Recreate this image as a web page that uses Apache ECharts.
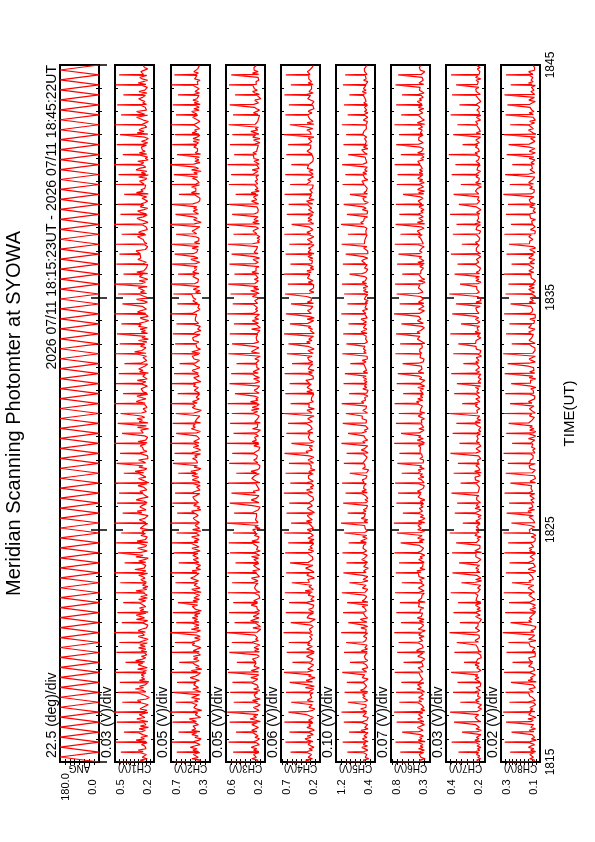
<!DOCTYPE html>
<html><head><meta charset="utf-8">
<script src="https://cdn.jsdelivr.net/npm/echarts@6/dist/echarts.min.js"></script>
<style>html,body{margin:0;padding:0;background:#fff}#c{width:595px;height:842px}</style>
</head><body><div id="c"></div>
<script>
// ---- labels / axes ----
const timeLabels = ['1815', '1825', '1835', '1845'];
const panelNames = ['ANG', 'CH1(V)', 'CH2(V)', 'CH3(V)', 'CH4(V)', 'CH5(V)', 'CH6(V)', 'CH7(V)', 'CH8(V)'];
const panelMax = [180, 0.5, 0.7, 0.6, 0.7, 1.2, 0.8, 0.4, 0.3];
const panelMin = [0, 0.2, 0.3, 0.2, 0.2, 0.4, 0.3, 0.2, 0.1];
const panelDiv = [22.5, 0.03, 0.05, 0.05, 0.06, 0.10, 0.07, 0.03, 0.02];
const maxLabels = ['180.0', '0.5', '0.7', '0.6', '0.7', '1.2', '0.8', '0.4', '0.3'];
const minLabels = ['0.0', '0.2', '0.3', '0.2', '0.2', '0.4', '0.3', '0.2', '0.1'];
const divLabels = ['22.5 (deg)/div', '0.03 (V)/div', '0.05 (V)/div', '0.05 (V)/div', '0.06 (V)/div',
                   '0.10 (V)/div', '0.07 (V)/div', '0.03 (V)/div', '0.02 (V)/div'];
const titleText = 'Meridian Scanning Photomter at SYOWA';
const periodText = '2026 07/11 18:15:23UT - 2026 07/11 18:45:22UT';
const timeAxisName = 'TIME(UT)';

// ---- data ----
// scan angle (deg) at each turning point, evenly spaced over the 30 minutes
const angTurns = [0,180,0,180,0,180,0,180,0,180,0,180,0,180,0,180,0,180,0,180,
0,180,0,180,0,180,0,180,0,180,0,180,0,180,0,180,0,180,0,180,
0,180,0,180,0,180,0,180,0,180,0,180,0,180,0,180,0,180,0,180,
0,180,0,180,0,180,0,180,0,180,0,180,0,180,0,180,0,180,0,180,
0,180,0,180,0,180,0,180,0,180,0,180,0,180,0,180,0,180,0,180,
0,180,0,180,0,180,0,180,0,180,0,180,0,180,0,180,0,180,0,180,
0,180,0,180,0,180,0,180,0,180,0,180,0,180,0,180,0,180,0,180,0];
// relative sample times inside one scan (fraction of a scan)
const scanSampleFrac = [0, 0.05, 0.19, 0.33, 0.47, 0.61, 0.75, 0.95];
// channel samples in mV: chN = 5 per scan (peak first), chNx = 3 more per scan
const ch1 = [472,268,305,251,290,455,283,321,262,247,498,259,338,274,301,431,292,266,315,243,486,247,299,332,270,
512,276,254,308,289,444,301,327,259,236,478,263,287,344,281,463,239,312,271,296,501,285,258,326,252,
419,272,341,288,264,489,254,297,263,318,467,309,276,245,284,523,266,322,297,258,448,281,249,335,273,
482,245,306,279,312,437,298,263,318,251,495,271,339,256,287,459,257,284,301,269,508,289,262,347,276,
426,264,318,273,244,476,302,251,289,326,491,248,331,267,282,452,277,293,242,305,517,261,256,314,271,
441,294,328,261,249,484,253,276,337,298,469,286,309,255,263,503,241,267,293,319,433,279,345,272,255,
488,265,288,318,247,461,307,254,281,296,529,252,323,264,275,446,283,271,302,241,479,246,314,289,331,
457,297,259,247,284,514,268,336,308,262,438,255,284,271,299,493,289,262,328,253,471,243,311,285,318,
427,302,277,256,269,499,261,349,293,281,464,287,255,319,244,485,249,298,266,307,451,316,272,241,285,
521,264,327,301,258,443,278,251,287,334,476,257,305,273,262,507,293,266,315,248,435,248,332,279,291,
490,282,259,257,324,466,305,291,338,266,498,253,273,262,283,449,271,318,295,251,515,286,246,273,309,
458,259,301,326,277,481,298,268,249,256,429,244,335,283,301,494,276,261,311,272,473,263,297,254,338,
510,301,279,325,245,440,256,313,268,289,487,284,248,296,263,462,247,329,277,315,505,291,265,243,282,
453,272,304,334,258,483,258,287,269,297,436,296,253,316,271,496,262,322,284,249,468,281,276,301,307];
const ch1x = [284,259,312,271,296,253,248,287,319,305,262,279,266,313,247,291,244,301,258,281,327,312,267,249,276,298,261,
243,321,285,297,256,272,268,309,251,321,274,295,255,247,283,283,336,262,264,271,307,302,252,278,247,289,261,
286,318,249,261,263,296,339,284,271,273,256,317,252,301,265,294,277,248,267,246,322,309,292,259,245,268,286,
281,323,253,263,257,311,316,284,276,257,249,297,288,306,264,249,272,281,327,259,255,272,297,308,254,263,274,
298,331,247,276,251,293,243,286,267,311,272,249,284,258,325,262,304,271,293,267,256,251,319,298,307,245,263,
269,288,281,246,274,312,321,253,259,278,312,287,259,266,248,302,291,306,253,248,274,287,327,261,266,262,293,
331,283,252,248,305,279,292,257,316,271,276,264,255,318,243,313,264,289,267,249,307,286,297,258,244,271,283,
299,256,272,275,334,249,258,268,301,318,287,266,263,251,292,291,309,256,249,273,284];
const ch2 = [668,452,398,487,421,641,417,476,433,502,695,468,412,391,455,623,403,489,447,428,684,439,421,512,396,
712,476,385,441,467,652,421,458,403,489,677,395,437,476,418,638,461,409,429,503,703,428,492,384,447,
615,447,413,468,425,689,409,471,435,392,661,483,426,401,458,724,437,398,492,414,646,412,461,427,481,
682,458,389,448,436,629,426,475,409,465,697,391,443,487,402,655,469,418,432,497,708,435,484,396,443,
621,415,427,471,419,674,472,401,438,486,691,424,462,411,431,643,448,395,479,407,716,407,436,423,472,
637,461,488,394,429,686,418,414,457,461,659,479,447,402,416,701,402,423,481,448,626,446,496,419,395,
679,427,408,444,478,664,488,431,397,425,719,413,467,452,408,647,436,399,416,491,683,397,454,473,433,
652,466,417,389,452,706,431,479,438,411,631,408,426,461,477,693,473,393,427,419,669,419,458,482,441,
612,452,431,408,463,698,401,487,436,398,658,438,415,469,482,681,463,442,394,427,644,416,397,451,456,
714,481,463,424,403,635,427,412,476,444,676,393,449,402,471,702,455,425,441,418,627,412,478,463,437,
688,448,406,399,496,663,471,437,452,423,699,404,459,416,409,648,437,421,484,452,717,462,392,431,468,
654,418,447,473,429,685,477,428,407,401,619,406,491,445,462,692,445,411,426,438,671,429,465,391,489,
709,468,403,455,414,639,397,452,428,447,687,441,418,472,406,662,414,483,437,458,704,459,429,404,427,
649,432,446,488,411,682,401,462,419,475,628,467,407,453,436,696,423,438,431,402,666,449,419,466,453];
const ch2x = [436,471,405,459,402,448,421,486,437,474,419,463,408,451,427,447,433,492,485,406,418,426,468,445,452,423,397,
411,447,476,469,398,431,433,482,456,401,437,419,458,414,483,424,459,402,481,427,447,439,406,468,407,463,429,
462,441,411,429,397,458,446,476,423,413,431,491,488,409,438,422,453,416,457,421,449,403,467,432,476,442,405,
438,401,472,416,486,427,463,429,441,431,458,398,472,416,463,409,437,429,451,474,452,427,404,418,483,451,479,
442,423,406,419,469,448,467,411,433,404,438,471,455,482,414,434,419,445,478,446,402,412,399,467,449,463,436,
425,427,409,471,452,487,437,408,424,406,475,451,461,432,417,423,461,463,484,418,431,414,447,448,456,403,412,
432,472,476,468,436,429,402,414,455,445,489,407,479,426,442,418,451,468,453,409,421,428,466,437,474,433,404,
407,421,459,441,478,426,466,412,452,435,446,413,411,401,471,458,457,433,426,424,408];
const ch3 = [552,298,271,336,289,527,263,318,284,341,574,312,279,256,303,498,281,337,301,267,563,247,294,352,286,
588,306,262,281,319,521,274,328,249,297,557,289,253,317,268,534,321,296,274,345,579,266,341,291,258,
489,293,277,329,283,566,258,306,263,312,541,331,268,297,276,592,279,289,244,324,512,263,347,308,261,
569,305,255,279,298,526,276,316,335,253,581,251,284,269,307,538,318,272,291,339,585,287,327,252,281,
503,269,293,314,266,559,312,249,287,302,572,257,335,276,268,529,294,282,326,251,593,271,261,298,317,
517,325,309,267,284,561,262,277,341,293,544,299,321,258,272,578,254,288,305,336,495,286,343,281,259,
567,273,259,316,287,536,311,296,264,274,589,265,331,289,308,523,292,268,247,329,558,248,305,302,276,
541,319,276,339,261,583,277,349,272,294,508,261,287,311,283,564,303,254,276,316,547,269,322,293,257,
492,296,281,261,304,576,255,339,318,289,539,314,263,284,271,562,281,301,252,337,519,267,274,329,265,
587,322,317,275,298,531,276,258,306,281,554,259,293,347,263,577,303,286,268,309,514,264,334,291,274,
565,297,269,257,323,543,271,312,302,288,581,328,257,278,255,524,283,298,324,297,591,256,326,266,313,
537,309,274,289,269,568,265,285,338,284,501,292,341,259,302,571,274,263,301,276,548,318,307,271,331,
584,259,279,313,262,516,287,324,286,293,559,306,252,262,318,535,263,297,345,273,573,299,283,275,287,
528,272,318,298,256,562,315,267,261,305,507,258,302,327,279,569,289,276,292,264,546,266,329,271,311];
const ch3x = [283,317,262,306,258,294,271,289,325,254,334,279,318,272,261,276,249,303,297,311,274,263,283,338,289,265,256,
312,327,291,259,281,267,294,253,319,278,304,284,246,271,297,321,289,258,285,342,276,266,263,309,301,296,271,
257,275,289,283,318,263,339,257,297,272,286,324,261,309,279,304,269,252,287,295,286,251,327,313,296,262,267,
274,281,294,318,306,258,264,252,281,289,278,317,253,314,263,307,267,299,279,291,275,262,259,306,331,283,259,
268,308,288,295,256,271,257,297,326,284,275,283,312,249,261,263,319,304,291,284,276,248,268,293,305,302,257,
276,257,318,259,329,284,317,273,266,271,288,299,293,262,273,256,311,329,302,276,261,281,253,287,266,298,312,
324,271,258,254,284,293,297,318,271,273,264,306,288,293,264,261,257,285,313,301,319,279,279,268,252,326,297,
299,268,274,267,287,256,286,309,301,243,256,283,308,292,324,275,271,261,292,313,289];
const ch4 = [612,321,384,296,352,578,364,298,341,277,643,289,357,392,318,591,337,272,305,369,657,302,346,331,284,
604,375,293,267,341,569,284,362,348,305,636,341,316,279,387,588,296,378,324,263,662,359,287,356,329,
553,318,341,289,297,627,273,305,371,352,601,348,369,302,278,668,307,284,337,321,575,329,352,261,366,
639,281,314,345,293,596,363,275,318,338,651,297,391,284,307,562,335,328,357,272,634,276,302,323,384,
584,352,366,291,315,647,314,281,349,296,607,288,337,276,355,659,346,309,364,283,571,305,374,298,327,
629,271,292,335,361,593,338,355,281,302,664,295,318,372,291,581,367,287,309,346,642,309,343,263,318,
598,283,306,354,374,655,351,379,297,286,566,318,274,328,331,631,291,358,345,299,609,372,297,287,358,
669,303,331,366,272,577,345,284,312,337,645,279,369,299,309,589,334,311,381,285,653,298,346,276,351,
559,361,293,338,314,624,287,327,354,276,604,325,371,303,343,661,274,289,326,298,586,356,338,282,365,
637,311,301,359,321,572,284,362,311,288,649,341,279,337,354,613,297,349,291,307,666,369,314,368,279,
579,305,286,297,339,641,276,353,342,317,595,348,299,279,362,658,318,367,327,291,563,282,312,354,305,
626,359,281,301,348,602,293,344,372,276,654,326,298,285,331,583,368,375,316,357,646,287,306,343,289,
568,334,339,291,312,632,299,284,366,342,608,357,358,304,281,663,312,296,331,369,587,278,367,289,303,
644,344,303,352,326,599,306,329,278,287,656,371,287,341,352,574,289,352,309,298,638,327,315,362,336];
const ch4x = [337,308,371,296,352,319,364,287,336,318,344,291,281,371,357,352,299,314,309,326,288,273,347,359,346,312,303,
321,283,341,372,336,276,299,361,327,333,294,349,287,318,311,357,341,284,314,279,368,276,353,322,341,307,297,
305,368,339,362,291,306,297,326,357,329,344,281,356,286,318,283,315,344,318,363,293,347,298,326,292,332,361,
325,281,309,369,349,287,303,312,342,278,337,314,336,294,281,351,358,329,289,322,367,323,276,301,344,341,338,
307,308,279,366,365,312,285,289,346,331,327,294,358,301,323,296,354,352,319,283,286,349,319,317,274,346,341,
338,292,298,312,372,364,283,307,282,361,337,329,326,286,357,293,355,303,347,311,276,315,279,344,281,342,319,
354,326,291,306,293,361,339,364,308,298,318,286,327,284,327,363,349,346,286,306,299,321,331,317,349,277,282,
293,358,339,334,314,356,277,297,294,357,339,321,308,283,309,344,362,342,316,301,287];
const ch5 = [1012,583,641,527,602,968,624,548,589,671,1063,541,612,658,565,934,598,687,543,611,1041,652,569,604,538,
1087,566,633,692,587,957,613,552,571,649,1024,547,698,628,594,979,638,584,541,662,1072,572,621,667,549,
913,609,548,597,624,1035,556,679,553,608,993,641,593,634,571,1094,589,557,582,689,948,563,642,701,551,
1056,627,578,559,613,972,544,661,614,587,1081,606,592,548,657,926,671,545,643,592,1048,582,636,588,538,
987,551,608,672,619,1068,634,571,557,646,941,576,694,621,563,1029,612,559,594,602,1097,549,627,548,681,
961,657,583,639,576,1053,593,546,607,547,1004,558,672,579,634,1076,621,601,662,589,919,572,563,531,655,
1039,646,637,598,572,982,541,589,684,613,1089,603,652,552,595,953,668,574,617,542,1061,582,611,576,663,
997,553,548,649,588,1083,629,676,593,617,931,567,597,542,649,1045,615,562,628,571,1018,548,641,574,604,
906,639,583,661,558,1071,577,629,587,637,988,604,556,549,592,1052,561,688,624,568,944,648,572,589,686,
1092,586,614,656,551,967,552,597,541,618,1034,624,543,637,582,1078,573,662,598,609,923,659,587,566,547,
1059,594,618,673,628,1001,546,571,551,579,1085,617,649,612,641,958,581,556,588,567,1096,638,693,634,596,
976,562,583,549,658,1043,606,537,619,583,915,553,627,582,619,1066,626,591,667,548,1009,571,648,561,613,
1074,643,569,603,586,949,558,612,645,672,1047,598,557,578,553,993,651,681,629,601,1081,574,594,556,638,
962,619,546,618,569,1037,557,633,583,612,927,641,578,661,584,1058,586,619,547,635,1012,563,567,612,592];
const ch5x = [614,567,649,553,638,589,627,596,542,581,552,668,649,621,577,562,583,603,606,657,556,574,549,631,643,612,584,
557,576,647,618,639,563,589,561,594,636,603,551,551,628,622,597,574,639,663,546,578,572,617,608,616,582,549,
548,651,626,632,593,571,579,558,659,609,634,584,654,569,553,563,611,632,621,647,596,586,553,574,546,596,661,
638,622,579,571,564,548,601,639,617,562,587,642,644,551,569,593,626,603,556,592,558,629,661,624,583,573,586,
612,546,639,568,618,571,647,583,552,597,633,628,553,561,597,624,604,563,578,579,651,639,646,582,561,557,608,
604,623,574,586,591,546,642,548,637,569,612,593,617,586,559,551,637,622,633,568,589,596,599,561,566,627,634,
619,552,583,583,641,606,648,574,549,559,589,617,606,621,641,588,559,572,627,603,598,547,636,556,613,571,629,
576,593,581,652,549,612,564,615,553,601,582,638,637,629,587,581,563,601,619,604,569];
const ch6 = [712,398,436,361,417,681,427,372,448,389,743,362,451,403,432,657,441,389,372,461,728,379,423,456,394,
761,452,367,418,377,694,408,441,381,446,736,371,398,467,412,668,436,459,392,368,752,392,381,427,453,
639,419,428,369,401,721,367,472,441,387,703,447,395,398,438,758,403,362,451,416,673,381,438,376,463,
732,429,407,423,379,686,362,451,463,407,749,441,376,387,449,662,397,422,432,372,739,418,468,364,428,
697,374,384,445,397,756,453,412,401,382,676,389,437,373,458,724,421,371,458,414,764,368,449,394,366,
648,437,396,421,437,731,393,427,366,421,709,412,461,438,389,747,376,388,409,452,663,449,417,451,374,
718,387,369,382,431,692,426,443,427,409,759,371,401,462,386,671,438,456,376,443,737,403,382,413,371,
701,364,428,448,418,754,443,472,391,457,644,391,374,426,383,727,418,409,367,436,713,377,451,441,402,
651,446,387,398,376,744,402,433,453,429,683,367,398,384,461,735,427,466,419,394,667,386,376,461,417,
762,434,419,372,447,689,379,447,429,385,729,451,391,396,423,748,397,364,447,368,656,418,438,417,441,
722,372,457,378,403,704,437,401,434,437,751,386,378,403,389,679,423,429,464,452,741,368,462,388,414,
693,447,389,419,376,738,406,416,452,428,646,381,446,371,459,726,432,374,436,392,716,389,438,394,433,
753,428,403,457,384,674,372,459,408,419,733,443,387,379,446,698,396,424,432,399,757,367,463,446,372,
669,436,392,389,441,734,402,418,463,407,659,449,376,401,436,742,381,441,426,387,708,412,397,368,423];
const ch6x = [402,437,381,426,391,448,384,423,407,451,372,429,413,446,393,379,408,456,436,387,419,398,459,378,421,416,441,
388,381,403,457,433,386,407,399,452,376,444,414,431,382,427,412,421,395,447,457,436,386,403,373,419,376,411,
441,439,448,394,412,389,428,368,422,373,436,458,438,401,394,403,453,406,426,384,438,389,419,381,452,442,417,
411,373,449,378,427,396,433,406,428,397,389,408,421,448,376,446,417,439,383,381,413,414,451,401,437,397,454,
392,424,383,456,369,426,406,438,447,381,411,391,428,452,419,399,386,405,443,429,437,372,403,378,417,443,462,
431,378,413,387,419,394,449,456,428,408,392,441,384,431,386,437,407,417,403,374,452,421,447,399,376,416,409,
442,388,431,412,439,381,389,421,446,433,383,418,457,452,394,398,407,426,417,378,407,384,429,441,426,442,388,
449,396,423,402,413,449,379,449,397,436,387,414,413,426,436,391,401,402,428,437,419];
const ch7 = [352,231,243,222,238,336,247,226,239,221,371,224,252,231,244,318,238,219,246,229,359,221,236,228,251,
379,242,229,218,236,327,229,248,241,223,364,251,224,234,246,341,226,239,252,231,374,236,221,227,242,
308,245,244,238,219,357,219,233,223,237,345,233,251,244,228,382,241,227,233,249,329,228,238,219,234,
362,247,222,241,225,338,222,246,236,243,376,237,231,224,238,321,249,218,248,221,367,225,243,232,247,
333,239,229,221,232,369,218,252,239,226,348,244,236,229,241,381,231,224,246,233,314,227,247,234,223,
355,248,232,221,251,343,223,219,243,237,372,236,241,231,228,325,242,228,249,244,361,219,253,226,231,
339,234,237,238,222,377,246,223,224,246,331,228,244,247,235,366,241,221,233,228,347,224,249,222,241,
384,238,231,242,226,317,252,226,229,247,358,229,242,239,233,344,221,235,225,221,373,244,228,248,238,
311,233,247,231,229,363,226,223,221,245,337,248,239,246,232,378,222,251,234,224,323,239,226,227,249,
368,231,234,243,236,349,217,246,221,227,383,243,229,238,242,328,235,221,247,231,356,228,245,229,223,
341,246,232,224,244,375,223,227,245,237,319,237,249,232,228,365,229,238,222,246,346,251,224,241,233,
379,226,243,236,221,334,241,231,227,239,361,232,222,249,248,324,219,248,233,226,371,245,236,223,241,
352,227,227,246,234,386,238,251,229,225,315,248,229,238,247,363,222,244,224,232,342,236,233,248,223,
376,229,221,231,242,331,244,247,221,229,369,224,228,245,238,348,239,242,234,246,374,231,225,226,231];
const ch7x = [227,244,233,241,228,249,235,221,226,222,247,241,246,233,223,229,218,247,238,242,232,224,229,221,249,237,244,
231,251,228,226,223,238,243,246,247,219,231,226,237,239,234,248,225,242,228,249,221,233,236,251,245,222,229,
223,243,237,239,228,224,247,241,246,232,226,231,221,252,239,244,234,225,236,219,248,227,245,233,242,231,222,
229,238,245,251,224,236,234,247,228,224,233,241,246,221,232,238,242,224,222,236,249,243,227,227,231,249,238,
226,234,246,249,223,231,235,245,222,228,231,243,245,218,235,237,246,248,221,239,227,241,228,233,232,251,242,
247,224,221,225,237,246,239,243,234,248,229,226,223,235,247,236,222,238,244,248,229,227,232,244,252,241,223,
233,226,236,221,244,249,246,231,228,238,219,241,229,246,233,243,237,224,224,228,246,235,249,237,249,223,229,
231,236,243,226,244,221,242,227,238,234,239,247,247,231,226,222,248,235,239,225,242];
const ch8 = [268,141,127,153,134,253,122,148,131,159,281,152,119,144,128,246,131,156,123,147,274,147,134,162,121,
289,126,151,137,152,257,158,124,129,138,277,134,143,157,124,249,119,161,138,149,284,149,128,121,133,
241,137,152,146,158,272,124,139,132,126,262,156,121,159,143,291,132,147,127,131,251,143,158,141,154,
279,121,129,152,122,259,153,146,125,137,286,128,133,148,161,244,146,157,134,127,275,133,122,161,145,
256,159,141,129,132,283,125,154,143,156,263,138,126,122,124,288,151,149,155,141,247,127,135,136,133,
271,144,162,128,157,258,131,123,147,129,282,155,138,133,146,252,123,151,158,123,276,139,129,124,151,
265,152,144,149,136,287,126,131,137,125,243,147,156,127,159,273,135,122,153,131,261,158,149,141,142,
285,124,136,126,154,254,141,159,157,128,278,132,127,135,147,248,149,142,148,122,281,127,153,131,139,
266,156,124,144,156,289,137,147,125,133,245,125,133,156,148,274,145,158,139,126,257,131,121,128,152,
284,153,141,151,137,251,122,155,134,124,277,148,128,146,158,262,136,146,123,131,286,159,132,157,144,
246,128,152,138,127,272,142,125,129,153,259,154,157,152,136,283,126,136,124,149,249,139,143,143,123,
275,151,122,136,142,264,124,149,158,155,288,146,131,127,129,255,133,158,149,138,279,157,127,132,151,
242,129,146,145,126,271,143,124,155,147,261,155,153,126,133,285,121,137,141,159,253,148,128,153,124,
276,134,156,131,142,267,152,141,124,157,282,127,123,147,131,250,141,159,135,146,274,136,132,158,128];
const ch8x = [138,152,129,147,128,155,123,141,137,156,133,124,131,158,146,144,122,133,152,147,159,127,136,128,141,124,151,
158,155,139,125,131,124,149,146,157,134,127,135,121,153,148,146,139,126,137,124,152,129,157,141,153,132,129,
139,145,158,124,128,134,151,154,123,133,137,147,145,121,138,128,149,155,156,134,131,136,126,144,122,152,127,
148,143,153,131,129,139,157,156,124,126,135,148,143,148,136,134,123,157,152,139,129,129,154,143,146,131,125,
138,126,152,121,147,138,155,137,131,133,159,149,147,124,127,127,142,156,142,133,134,158,151,142,124,129,125,
137,146,153,151,122,139,129,155,128,145,137,147,132,127,159,157,148,133,123,134,124,141,157,145,136,125,137,
149,141,152,125,153,129,144,131,141,153,138,156,131,127,126,139,149,143,156,132,135,127,156,149,148,124,131,
134,142,157,122,135,126,143,151,145,155,129,138,131,144,124,147,136,153,138,128,136];

// ---- build ----
const SPAN_MIN = 30;                // 18:15 .. 18:45
const FONT = '"Liberation Sans", Arial, Helvetica, sans-serif';
const lefts = [60, 115, 171, 226, 281, 336, 391, 446, 501];
const PW = 39, TOP = 65, PH = 697;

function buildChannel(main, extra) {
  const nScan = main.length / 5, P = SPAN_MIN / nScan, out = [];
  for (let s = 0; s < nScan; s++) {
    const vals = main.slice(5 * s, 5 * s + 5).concat(extra.slice(3 * s, 3 * s + 3));
    vals.forEach((v, k) => out.push([v / 1000, (s + scanSampleFrac[k]) * P]));
  }
  return out;
}
const panelData = [angTurns.map((v, h) => [v, h * SPAN_MIN / (angTurns.length - 1)]),
  buildChannel(ch1, ch1x), buildChannel(ch2, ch2x), buildChannel(ch3, ch3x), buildChannel(ch4, ch4x),
  buildChannel(ch5, ch5x), buildChannel(ch6, ch6x), buildChannel(ch7, ch7x), buildChannel(ch8, ch8x)];

const grids = [], xAxes = [], yAxes = [], series = [], graphics = [];
for (let g = 0; g < 9; g++) {
  const lo = panelMin[g], hi = panelMax[g], dv = panelDiv[g];
  grids.push({left: lefts[g], top: TOP, width: PW, height: PH, show: true,
    borderColor: '#000', borderWidth: 2, backgroundColor: '#fff', outerBoundsMode: 'none'});
  const ticks = [];
  for (let k = 1; lo + k * dv < hi - 1e-9; k++) ticks.push(+(lo + k * dv).toFixed(4));
  const inset = (hi - lo) * 6 / PW;
  xAxes.push({gridIndex: g, type: 'value', min: lo, max: hi, inverse: true, position: 'bottom',
    axisLine: {show: false}, splitLine: {show: false},
    axisTick: {show: true, inside: true, length: 3, customValues: ticks, lineStyle: {color: '#000', width: 1}},
    axisLabel: {show: true, customValues: [hi - inset, lo + inset],
      formatter: v => (v > (hi + lo) / 2 ? maxLabels[g] : minLabels[g]),
      rotate: 90, align: 'center', verticalAlign: 'middle', margin: 25,
      fontSize: 11, color: '#000', fontFamily: FONT}});
  xAxes.push({gridIndex: g, type: 'value', min: lo, max: hi, inverse: true, position: 'top',
    axisLine: {show: false}, splitLine: {show: false}, axisLabel: {show: false},
    axisTick: {show: true, inside: true, length: 3, customValues: ticks, lineStyle: {color: '#000', width: 1}}});
  for (const side of ['left', 'right']) {
    const isLabelAxis = (g === 8 && side === 'right');
    yAxes.push({gridIndex: g, type: 'value', min: 0, max: SPAN_MIN, interval: 10, position: side,
      axisLine: {show: false}, splitLine: {show: false},
      axisTick: {show: true, inside: true, length: 8, lineStyle: {color: '#000', width: 1.5}},
      minorTick: {show: true, splitNumber: 10, length: 3, lineStyle: {color: '#000', width: 1}},
      axisLabel: isLabelAxis ? {show: true, rotate: 90, align: 'center', verticalAlign: 'top', margin: 5,
        formatter: v => timeLabels[Math.round(v / 10)], fontSize: 12, color: '#000', fontFamily: FONT}
        : {show: false}});
  }
  series.push({type: 'line', xAxisIndex: 2 * g, yAxisIndex: 2 * g, data: panelData[g],
    symbol: 'none', showSymbol: false, silent: true, clip: true, animation: false,
    lineStyle: {color: '#ff0000', width: 1.2}, itemStyle: {color: '#ff0000'}});
  graphics.push({type: 'text', x: lefts[g] - 1, y: TOP + PH - 4, rotation: Math.PI / 2,
    style: {text: divLabels[g], fontSize: 14, fontFamily: FONT, fill: '#000',
      align: 'left', verticalAlign: 'bottom', textAlign: 'left', textVerticalAlign: 'bottom'}});
  graphics.push({type: 'text', x: lefts[g] + PW / 2, y: TOP + PH + 1, rotation: Math.PI,
    style: {text: panelNames[g], fontSize: 10, fontFamily: FONT, fill: '#000',
      align: 'center', verticalAlign: 'bottom', textAlign: 'center', textVerticalAlign: 'bottom'}});
}
graphics.push({type: 'text', x: 14, y: TOP + PH / 2, rotation: Math.PI / 2,
  style: {text: titleText, fontSize: 20, fontFamily: FONT, fill: '#000',
    align: 'center', verticalAlign: 'middle', textAlign: 'center', textVerticalAlign: 'middle'}});
graphics.push({type: 'text', x: lefts[0] - 1, y: TOP, rotation: Math.PI / 2,
  style: {text: periodText, fontSize: 14, fontFamily: FONT, fill: '#000',
    align: 'right', verticalAlign: 'bottom', textAlign: 'right', textVerticalAlign: 'bottom'}});
graphics.push({type: 'text', x: 562, y: TOP + PH / 2, rotation: Math.PI / 2,
  style: {text: timeAxisName, fontSize: 15, fontFamily: FONT, fill: '#000',
    align: 'center', verticalAlign: 'top', textAlign: 'center', textVerticalAlign: 'top'}});

const chart = echarts.init(document.getElementById('c'), null, {renderer: 'canvas'});
chart.setOption({animation: false, backgroundColor: '#fff',
  grid: grids, xAxis: xAxes, yAxis: yAxes, series: series, graphic: {elements: graphics}});
</script></body></html>
